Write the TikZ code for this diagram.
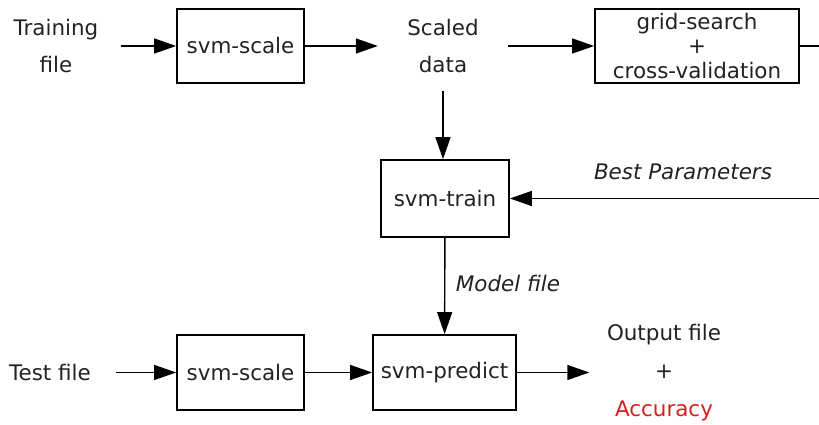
\documentclass[tikz,border=0pt]{standalone}
\usepackage{fontspec}
\setmainfont{DejaVu Sans}
\usetikzlibrary{arrows.meta}
\definecolor{accred}{RGB}{214,32,32}
\definecolor{ink}{RGB}{34,34,34}
\tikzset{
  blk/.style={draw=black, line width=0.5pt, inner sep=0pt, align=center, minimum height=0.75cm},
  txt/.style={inner sep=0pt, align=center},
  flow/.style={-{Triangle[length=0.22cm,width=0.15cm]}, line width=0.4pt, draw=black}
}

\begin{document}
\begin{tikzpicture}[font=\fontsize{6.1}{10.8}\selectfont, text=ink]
\useasboundingbox (0,0) rectangle (8.19,4.25);
\clip (0,0) rectangle (8.19,4.25);
% top row
\node[txt, minimum width=1.28cm] (train) at (0.56,3.79) {Training\\file};
\node[blk, minimum width=1.27cm, minimum height=0.74cm] (scaleA) at (2.405,3.79) {svm-scale};
\node[txt, minimum width=1.29cm, minimum height=0.88cm] (scaled) at (4.43,3.79) {Scaled\\data};
\node[blk, minimum width=2.04cm, minimum height=0.74cm, font=\fontsize{6.1}{7.1}\selectfont] (grid) at (6.97,3.79) {grid-search\\+\\cross-validation};
% middle
\node[blk, minimum width=1.28cm, minimum height=0.77cm] (svmtrain) at (4.45,2.265) {svm-train};
\node[txt, font=\fontsize{6.1}{7}\selectfont\itshape] (best) at (6.83,2.53) {Best Parameters};
\node[txt, font=\fontsize{6.1}{7}\selectfont\itshape] (model) at (5.08,1.41) {Model file};
% bottom row
\node[txt, minimum width=1.3cm] (test) at (0.50,0.525) {Test file};
\node[blk, minimum width=1.27cm] (scaleB) at (2.405,0.525) {svm-scale};
\node[blk, minimum width=1.43cm] (predict) at (4.445,0.525) {svm-predict};
\node[txt, minimum width=1.48cm] (out) at (6.64,0.525) {Output file\\+\\\textcolor{accred}{Accuracy}};

\draw[flow] (train) -- (scaleA);
\draw[flow] (scaleA) -- (scaled);
\draw[flow] (scaled) -- (grid);
\draw[flow] (grid.east) -- ++(0.5,0) |- (svmtrain.east);
\draw[flow] (scaled.south) -- (svmtrain.north -| scaled.south);
\draw[flow] (svmtrain) -- (predict);
\draw[flow] (test) -- (scaleB);
\draw[flow] (scaleB) -- (predict);
\draw[flow] (predict) -- (out);
\end{tikzpicture}
\end{document}
